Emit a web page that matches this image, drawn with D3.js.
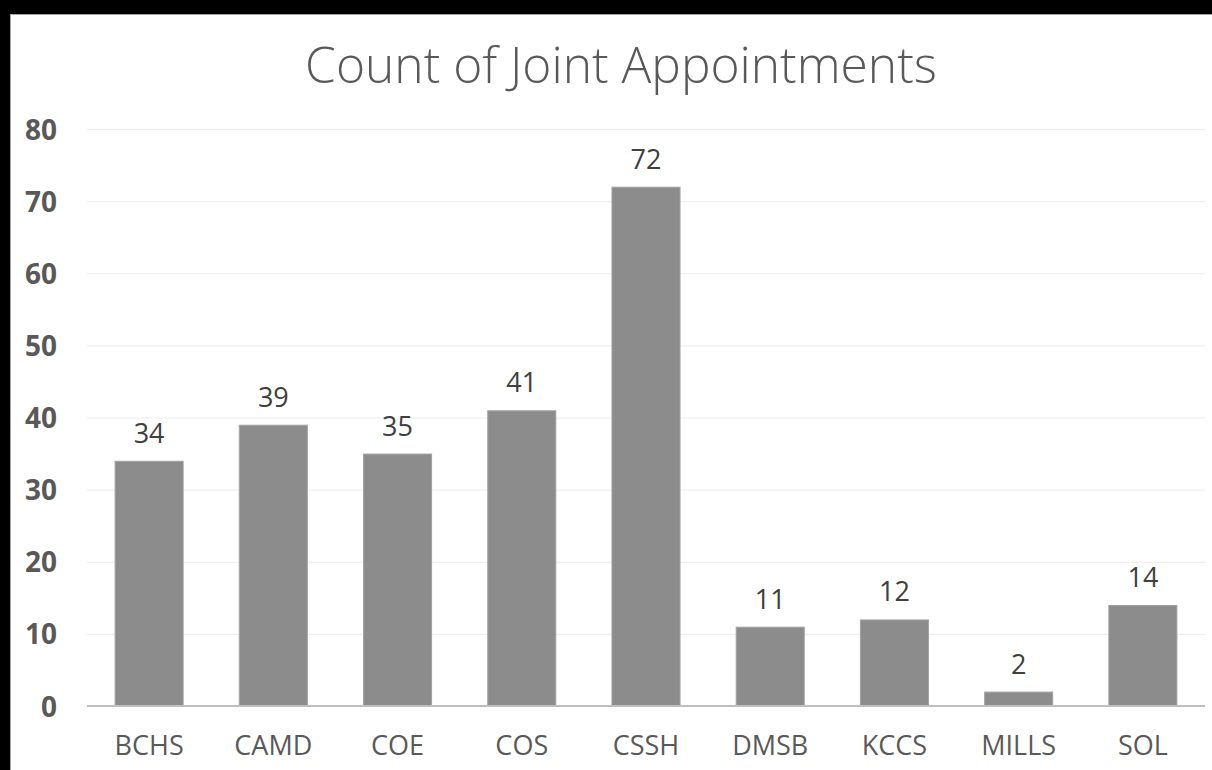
<!DOCTYPE html>
<html>
<head>
<meta charset="utf-8">
<script src="https://cdn.jsdelivr.net/npm/d3@7"></script>
<style>
  html, body { margin: 0; padding: 0; background: #000; }
  svg { display: block; }
  text { font-family: "Open Sans", "Liberation Sans", sans-serif; }
</style>
</head>
<body>
<svg id="chart" width="1212" height="770"></svg>
<script>
const categories = ["BCHS", "CAMD", "COE", "COS", "CSSH", "DMSB", "KCCS", "MILLS", "SOL"];
const counts = [34, 39, 35, 41, 72, 11, 12, 2, 14];
const yTicks = [0, 10, 20, 30, 40, 50, 60, 70, 80];
const titleText = "Count of Joint Appointments";

const svg = d3.select("#chart");
const W = 1212, H = 770;

// chart area
svg.append("rect")
  .attr("x", 10.5).attr("y", 14.5)
  .attr("width", W).attr("height", H)
  .attr("fill", "#fff").attr("stroke", "#a6a6a6").attr("stroke-width", 1);

const plot = { left: 87, right: 1205, top: 129, bottom: 706 };

const x = d3.scaleBand().domain(categories)
  .range([plot.left, plot.right]).paddingInner(0.444).paddingOuter(0.222);
const y = d3.scaleLinear().domain([0, 80]).range([plot.bottom, plot.top]);

// gridlines
svg.append("g").selectAll("line").data(yTicks.filter(d => d > 0)).join("line")
  .attr("x1", plot.left).attr("x2", plot.right)
  .attr("y1", d => y(d) + 0.5).attr("y2", d => y(d) + 0.5)
  .attr("stroke", "#ececec").attr("stroke-width", 1);

// y axis labels
const yAxis = d3.axisLeft(y).tickValues(yTicks).tickSize(0).tickPadding(0);
const gy = svg.append("g").attr("transform", `translate(57,0)`).call(yAxis);
gy.select(".domain").remove();
gy.selectAll("text")
  .attr("fill", "#595959").attr("font-size", 28).attr("font-weight", "bold")
  .attr("font-family", '"Open Sans", sans-serif')
  .attr("dy", "0.36em");

// bars
svg.append("g").selectAll("rect").data(categories).join("rect")
  .attr("x", d => x(d) + 0.5)
  .attr("y", (d, i) => y(counts[i]) + 0.5)
  .attr("width", x.bandwidth() - 1)
  .attr("height", (d, i) => y(0) - y(counts[i]))
  .attr("fill", "#8c8c8c").attr("stroke", "#a3a3a3").attr("stroke-width", 1);

// baseline axis
const xAxis = d3.axisBottom(x).tickSize(0).tickPadding(0);
const gx = svg.append("g").attr("transform", `translate(0,${plot.bottom})`).call(xAxis);
gx.select(".domain").remove();
gx.selectAll("text")
  .attr("fill", "#595959").attr("font-size", 27)
  .attr("font-family", '"Open Sans", sans-serif')
  .attr("y", 49).attr("dy", 0);
svg.append("line")
  .attr("x1", plot.left).attr("x2", plot.right)
  .attr("y1", plot.bottom).attr("y2", plot.bottom)
  .attr("stroke", "#bfbfbf").attr("stroke-width", 2);

// data labels
svg.append("g").selectAll("text").data(categories).join("text")
  .attr("x", d => x(d) + x.bandwidth() / 2)
  .attr("y", (d, i) => y(counts[i]) - 18)
  .attr("text-anchor", "middle")
  .attr("fill", "#404040").attr("font-size", 27)
  .text((d, i) => counts[i]);

// title fitted to width
const title = svg.append("text")
  .attr("x", 621).attr("y", 83)
  .attr("text-anchor", "middle")
  .attr("fill", "#595959").attr("font-weight", 300)
  .attr("font-size", 46)
  .text(titleText);
const tw = title.node().getComputedTextLength();
title.attr("font-size", 46 * 632 / tw);
</script>
</body>
</html>
